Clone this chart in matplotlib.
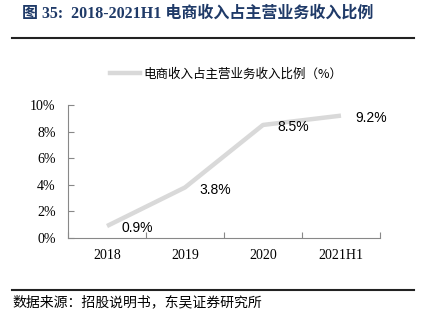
import matplotlib.pyplot as plt
from matplotlib.lines import Line2D

plt.rcParams['font.family'] = ['Liberation Serif', 'Noto Sans CJK SC']

years = ['2018', '2019', '2020', '2021H1']
ratio = [0.9, 3.8, 8.5, 9.2]
yticks = [0, 2, 4, 6, 8, 10]

fig = plt.figure(figsize=(4.21, 3.21), dpi=100)
ax = fig.add_axes([68 / 421, 1 - 238 / 321, 312 / 421, 133 / 321])

x = [i + 0.5 for i in range(len(years))]
ax.plot(x, ratio, color='#d9d9d9', lw=3.2, solid_capstyle='butt')
for xi, v in zip(x, ratio):
    ax.annotate(f'{v}%', (xi, v), xytext=(10.5, -1.5), textcoords='offset points',
                va='center', ha='left', fontsize=10, family=['Liberation Sans'])

ax.set_xlim(0, 4)
ax.set_ylim(0, 10)
ax.set_yticks(yticks)
ax.set_yticklabels([f'{t}%' for t in yticks], fontsize=10)
ax.set_xticks([0, 1, 2, 3, 4])
ax.set_xticklabels([])
ax.set_xticks(x, minor=True)
ax.set_xticklabels(years, minor=True, fontsize=10)
ax.tick_params(axis='x', which='minor', length=0, pad=8)
ax.tick_params(axis='x', which='major', direction='in', length=4, color='#888888')
ax.tick_params(axis='y', direction='in', length=4, color='#888888', pad=9)
for s in ['top', 'right']:
    ax.spines[s].set_visible(False)
for s in ['left', 'bottom']:
    ax.spines[s].set_color('#888888')
    ax.spines[s].set_linewidth(0.8)

handle = Line2D([], [], color='#d9d9d9', lw=3.2)
fig.legend([handle], ['电商收入占主营业务收入比例（%）'], loc='center',
           bbox_to_anchor=(226 / 421, 1 - 74 / 321), frameon=False,
           prop={'family': ['Noto Sans CJK SC'], 'size': 9},
           handlelength=2.4, handletextpad=0.3)

fig.text(22 / 421, 1 - 14 / 321, '图 35:  2018-2021H1 电商收入占主营业务收入比例',
         fontsize=11.5, fontweight='bold', color='#1f3a68', va='center', ha='left')
fig.add_artist(Line2D([12 / 421, 414 / 421], [1 - 38 / 321, 1 - 38 / 321],
                      color='#222222', lw=1.5))
fig.add_artist(Line2D([12 / 421, 414 / 421], [1 - 290 / 321, 1 - 290 / 321],
                      color='#222222', lw=1.5))
fig.text(12 / 421, 1 - 302 / 321, '数据来源：招股说明书，东吴证券研究所',
         fontsize=10, family=['Noto Sans CJK SC'], va='center', ha='left')

fig.savefig('out.png', dpi=100)
